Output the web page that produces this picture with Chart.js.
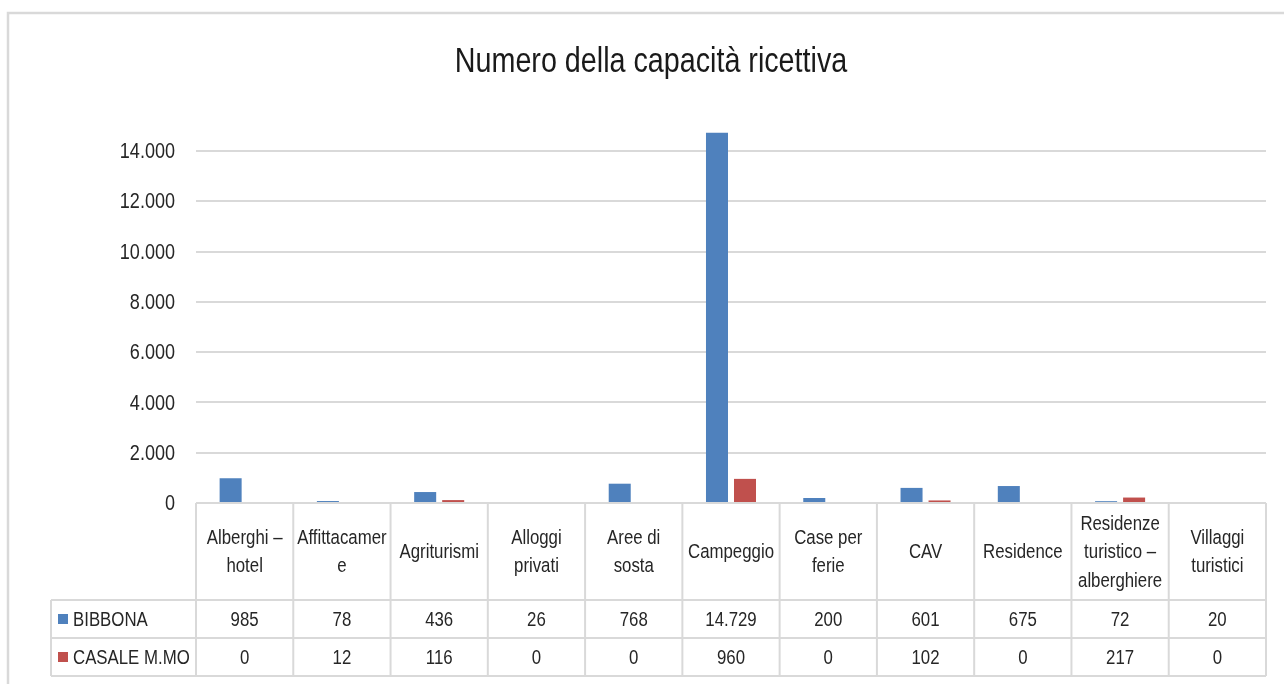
<!DOCTYPE html>
<html>
<head>
<meta charset="utf-8">
<title>Numero della capacità ricettiva</title>
<script src="https://cdn.jsdelivr.net/npm/chart.js@4/dist/chart.umd.min.js"></script>
<style>
  html, body { margin: 0; padding: 0; background: #ffffff; }
  #wrap { width: 1284px; height: 684px; position: relative; }
</style>
</head>
<body>
<div id="wrap"><canvas id="capacityChart" width="1284" height="684"></canvas></div>
<script>
// Categories (multi-line labels as drawn in the table header)
var categories = [
  ["Alberghi –", "hotel"],
  ["Affittacamer", "e"],
  ["Agriturismi"],
  ["Alloggi", "privati"],
  ["Aree di", "sosta"],
  ["Campeggio"],
  ["Case per", "ferie"],
  ["CAV"],
  ["Residence"],
  ["Residenze", "turistico –", "alberghiere"],
  ["Villaggi", "turistici"]
];

var seriesNames = ["BIBBONA", "CASALE M.MO"];
var bibbona = [985, 78, 436, 26, 768, 14729, 200, 601, 675, 72, 20];
var casale = [0, 12, 116, 0, 0, 960, 0, 102, 0, 217, 0];
var yTicks = [0, 2000, 4000, 6000, 8000, 10000, 12000, 14000];
var chartTitle = "Numero della capacità ricettiva";

var BLUE = "#4F81BD";
var RED = "#C0504D";
var LINE = "#d9d9d9";
var TEXT = "#262626";
var FONT = "'Liberation Sans', Arial, sans-serif";
var NARROW = 0.82; // horizontal squeeze to get an Arial Narrow look

// Italian thousands separator
function fmt(n) {
  return String(n).replace(/\B(?=(\d{3})+(?!\d))/g, ".");
}

// narrow text helper
function narrowText(c, text, x, y, align, size, color) {
  c.save();
  c.translate(x, y);
  c.scale(NARROW, 1);
  c.font = size + "px " + FONT;
  c.fillStyle = color || TEXT;
  c.textAlign = align;
  c.textBaseline = "middle";
  c.fillText(text, 0, 0);
  c.restore();
}

// Frame around the whole chart + title
var framePlugin = {
  id: "frame",
  beforeDraw: function (chart) {
    var c = chart.ctx;
    c.save();
    c.fillStyle = "#ffffff";
    c.fillRect(0, 0, chart.width, chart.height);
    c.strokeStyle = LINE;
    c.lineWidth = 2.5;
    c.beginPath();
    c.moveTo(8, chart.height + 5);
    c.lineTo(8, 13);
    c.lineTo(chart.width + 5, 13);
    c.stroke();
    c.restore();
    narrowText(c, chartTitle, 651, 62, "center", 35, "#1a1a1a");
  }
};

// Y tick labels, placed with the y scale
var yLabelPlugin = {
  id: "yLabels",
  afterDraw: function (chart) {
    var ys = chart.scales.y;
    ys.ticks.forEach(function (t) {
      narrowText(chart.ctx, fmt(t.value), 175, ys.getPixelForValue(t.value) + 1, "right", 22);
    });
  }
};

// Data table under the plot area, aligned on the x scale
var tablePlugin = {
  id: "dataTable",
  afterDraw: function (chart) {
    var c = chart.ctx;
    var area = chart.chartArea;
    var xs = chart.scales.x;
    var n = categories.length;
    var colW = (area.right - area.left) / n;
    var top = area.bottom;
    var headBottom = top + 97;
    var row1 = headBottom + 38;
    var row2 = row1 + 38;
    var legendLeft = 51;

    c.save();
    c.strokeStyle = LINE;
    c.lineWidth = 2;
    c.beginPath();
    c.moveTo(area.left, top); c.lineTo(area.right, top);
    [headBottom, row1, row2].forEach(function (y) {
      c.moveTo(legendLeft, y); c.lineTo(area.right, y);
    });
    for (var i = 0; i <= n; i++) {
      var x = area.left + i * colW;
      c.moveTo(x, top); c.lineTo(x, row2);
    }
    c.moveTo(legendLeft, headBottom); c.lineTo(legendLeft, row2);
    c.stroke();
    c.restore();

    var lh = 28.5;
    categories.forEach(function (lines, i) {
      var cx = xs.getPixelForValue(i);
      var cy = (top + headBottom) / 2 + 1;
      var y0 = cy - (lines.length - 1) * lh / 2;
      lines.forEach(function (t, k) {
        narrowText(c, t, cx, y0 + k * lh, "center", 20.5);
      });
      narrowText(c, fmt(bibbona[i]), cx, (headBottom + row1) / 2 + 1, "center", 20.5);
      narrowText(c, fmt(casale[i]), cx, (row1 + row2) / 2 + 1, "center", 20.5);
    });

    // legend keys in the first column
    var rows = [[(headBottom + row1) / 2, BLUE], [(row1 + row2) / 2, RED]];
    rows.forEach(function (r, k) {
      c.fillStyle = r[1];
      c.fillRect(58, r[0] - 5, 10, 10);
      narrowText(c, seriesNames[k], 73, r[0] + 1, "left", 20.5);
    });
  }
};

var ctx = document.getElementById("capacityChart").getContext("2d");

var data = {
  labels: categories,
  datasets: [
    { label: seriesNames[0], data: bibbona, backgroundColor: BLUE },
    { label: seriesNames[1], data: casale, backgroundColor: RED }
  ]
};

var options = {
  responsive: false,
  animation: false,
  layout: { padding: { left: 10, right: 18, top: 126, bottom: 181 } },
  datasets: {
    bar: { categoryPercentage: 0.576, barPercentage: 0.786 }
  },
  plugins: {
    legend: { display: false },
    tooltip: { enabled: false },
    title: { display: false }
  },
  scales: {
    x: { display: false },
    y: {
      min: 0,
      max: 15000,
      border: { display: false },
      grid: { color: LINE, lineWidth: 2, drawTicks: false },
      ticks: { display: false, stepSize: 2000 },
      afterBuildTicks: function (scale) {
        scale.ticks = yTicks.map(function (v) { return { value: v }; });
      },
      afterFit: function (scale) { scale.width = 186; }
    }
  }
};

var myChart = new Chart(ctx, {
  type: "bar",
  data: data,
  options: options,
  plugins: [framePlugin, yLabelPlugin, tablePlugin]
});
</script>
</body>
</html>
